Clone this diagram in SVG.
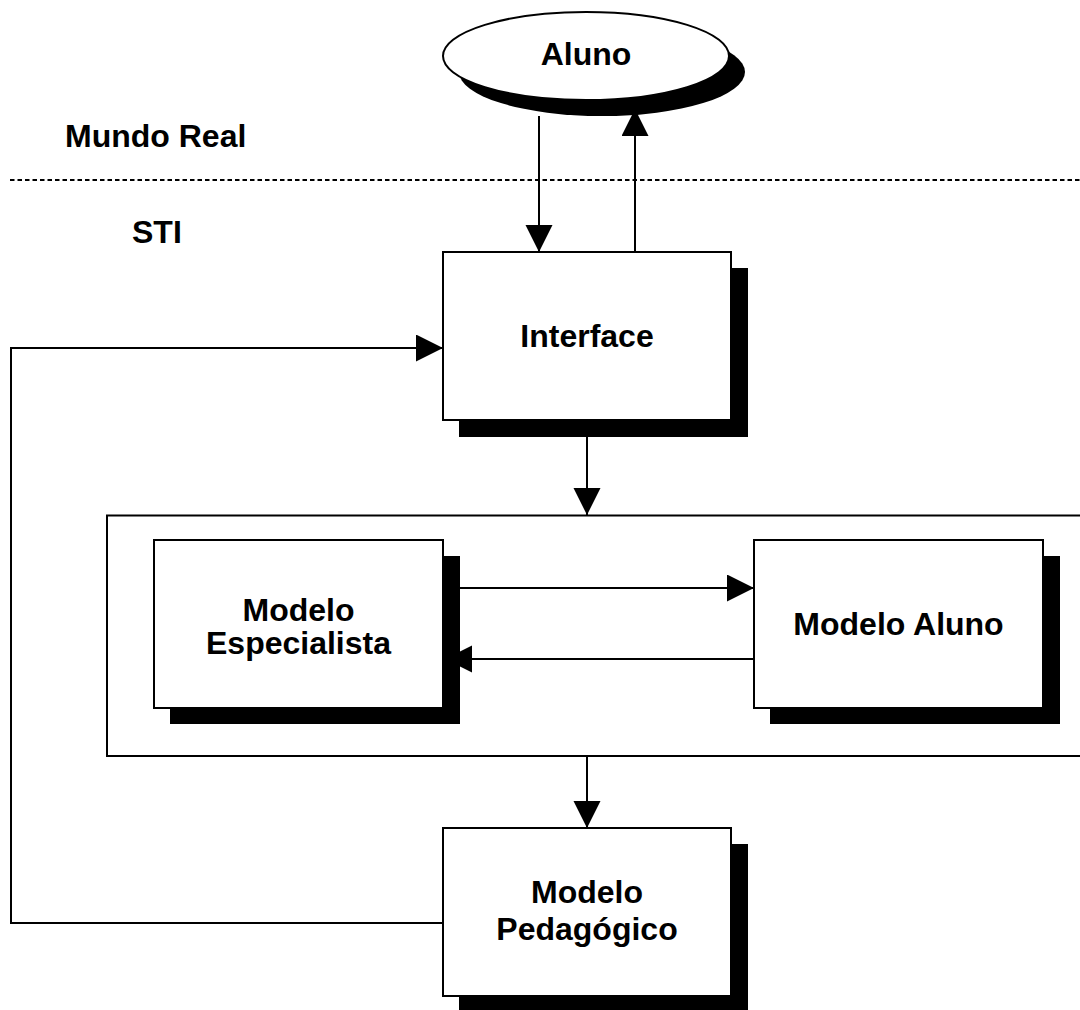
<svg xmlns="http://www.w3.org/2000/svg" width="1080" height="1010" viewBox="0 0 1080 1010">
  <style>
    .line { fill: none; stroke: #000; stroke-width: 2; }
    .box { fill: #fff; stroke: #000; stroke-width: 2; }
    .shadow { fill: #000; stroke: none; }
    .label { font-family: "Liberation Sans", Arial, sans-serif; font-weight: bold; font-size: 32px; fill: #000; }
    .mid { text-anchor: middle; }
  </style>
  <defs>
    <marker id="arrow" markerUnits="userSpaceOnUse" markerWidth="28" markerHeight="28" refX="27" refY="13.5" orient="auto">
      <path d="M0,0 L27,13.5 L0,27 z" fill="#000"/>
    </marker>
  </defs>

  <rect width="1080" height="1010" fill="#fff"/>

  <!-- boundary between real world and the system -->
  <line class="line" x1="10" y1="180" x2="1080" y2="180" stroke-width="1.6" stroke-dasharray="4.5 3"/>
  <text class="label" x="65" y="147">Mundo Real</text>
  <text class="label" x="132" y="243">STI</text>

  <!-- enclosing frame for the two models -->
  <rect id="models-frame" class="line" x="107" y="515.5" width="1000" height="240.5"/>

  <!-- connectors -->
  <g id="connectors">
    <line class="line" x1="539" y1="116" x2="539" y2="252" marker-end="url(#arrow)"/>
    <line class="line" x1="635" y1="252" x2="635" y2="109" marker-end="url(#arrow)"/>
    <line class="line" x1="587" y1="420" x2="587" y2="515" marker-end="url(#arrow)"/>
    <line class="line" x1="443" y1="588" x2="754" y2="588" marker-end="url(#arrow)"/>
    <line class="line" x1="754" y1="659" x2="445" y2="659" marker-end="url(#arrow)"/>
    <line class="line" x1="587" y1="756" x2="587" y2="828" marker-end="url(#arrow)"/>
    <polyline class="line" points="443,923 11,923 11,348 443,348" marker-end="url(#arrow)"/>
  </g>

  <!-- nodes -->
  <g id="aluno">
    <ellipse class="shadow" cx="602" cy="72" rx="143" ry="44"/>
    <ellipse class="box" cx="586" cy="56" rx="143" ry="44"/>
    <text class="label mid" x="586" y="65">Aluno</text>
  </g>

  <g id="interface">
    <rect class="shadow" x="459" y="268" width="289" height="169"/>
    <rect class="box" x="443" y="252" width="288" height="168"/>
    <text class="label mid" x="587" y="347">Interface</text>
  </g>

  <g id="modelo-especialista">
    <rect class="shadow" x="170" y="556" width="290" height="168"/>
    <rect class="box" x="154" y="540" width="289" height="168"/>
    <text class="label mid" x="298.5" y="621">Modelo</text>
    <text class="label mid" x="298.5" y="654">Especialista</text>
  </g>

  <g id="modelo-aluno">
    <rect class="shadow" x="770" y="556" width="290" height="168"/>
    <rect class="box" x="754" y="540" width="289" height="168"/>
    <text class="label mid" x="898.5" y="635">Modelo Aluno</text>
  </g>

  <g id="modelo-pedagogico">
    <rect class="shadow" x="459" y="844" width="289" height="168"/>
    <rect class="box" x="443" y="828" width="288" height="168"/>
    <text class="label mid" x="587" y="903">Modelo</text>
    <text class="label mid" x="587" y="940">Pedagógico</text>
  </g>
</svg>
